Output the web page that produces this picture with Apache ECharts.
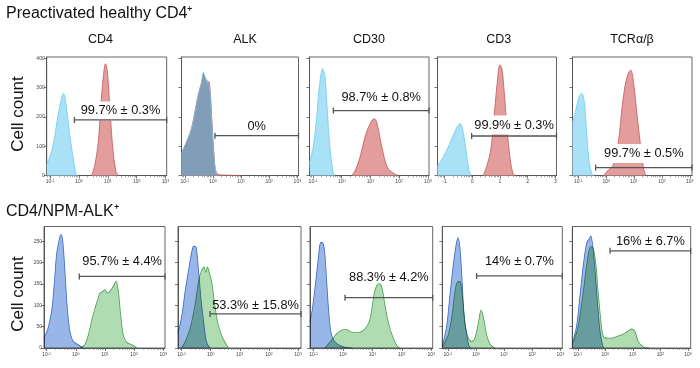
<!DOCTYPE html>
<html><head><meta charset="utf-8">
<script src="https://cdn.jsdelivr.net/npm/echarts@6/dist/echarts.min.js"></script>
<style>html,body{margin:0;padding:0;background:#fff}#c{width:700px;height:368px}</style>
</head><body><div id="c"></div>
<script>
// ---------- data ----------
const markers = ['CD4', 'ALK', 'CD30', 'CD3', 'TCRα/β'];
const rowTitles = ['Preactivated healthy CD4⁺', 'CD4/NPM-ALK⁺'];
const yTitle = 'Cell count';
const decadeTicks = [-1, 0, 1, 2, 3];
const decadeExponents = ['-1', '0', '1', '2', '3'];
const cd3HealthyTickLabels = ['-1', '0', '1', '2', '3'];
const row1CountTicks = [0, 100, 200, 300, 400];
const row2CountTicks = [0, 50, 100, 150, 200, 250];

// Preactivated healthy CD4+ : [log10 fluorescence, cell count]
const healthyCD4Iso = [[-1.12,37],[-0.95,83],[-0.83,141],[-0.72,210],[-0.60,267],[-0.54,280],[-0.45,245],[-0.34,152],[-0.22,72],[-0.10,3],[-0.05,0]];
const healthyCD4Stain = [[0.44,0],[0.55,37],[0.67,117],[0.75,232],[0.84,335],[0.92,382],[0.98,359],[1.07,232],[1.17,94],[1.28,14],[1.36,0]];
const healthyALKIso = [[-1.12,80],[-1.09,82],[-0.94,116],[-0.79,150],[-0.68,196],[-0.52,276],[-0.40,321],[-0.34,353],[-0.28,333],[-0.20,316],[-0.13,308],[-0.05,192],[0.04,56],[0.11,6],[0.15,0]];
const healthyALKStain = [[-1.12,78],[-0.94,114],[-0.79,152],[-0.68,198],[-0.52,278],[-0.40,318],[-0.34,345],[-0.28,335],[-0.20,322],[-0.13,318],[-0.05,205],[0.04,65],[0.11,12],[0.25,2],[0.6,1],[1.0,0]];
const healthyCD30Iso = [[-1.12,45],[-1.10,51],[-0.99,97],[-0.87,199],[-0.78,302],[-0.66,365],[-0.58,336],[-0.50,222],[-0.41,97],[-0.31,17],[-0.25,0]];
const healthyCD30Stain = [[0.35,0],[0.47,17],[0.64,63],[0.81,131],[0.99,177],[1.13,194],[1.22,182],[1.40,97],[1.59,28],[1.80,8],[1.97,0]];
const healthyCD3Iso = [[-1.25,30],[-1.22,36],[-1.04,64],[-0.86,98],[-0.68,138],[-0.54,167],[-0.44,178],[-0.34,155],[-0.22,87],[-0.14,30],[-0.05,0]];
const healthyCD3Stain = [[0.40,0],[0.52,30],[0.67,87],[0.79,201],[0.90,315],[1.00,378],[1.07,366],[1.15,292],[1.27,144],[1.39,42],[1.48,5],[1.55,0]];
const healthyTCRIso = [[-1.21,185],[-1.18,190],[-1.09,224],[-0.97,269],[-0.88,281],[-0.78,247],[-0.70,144],[-0.62,53],[-0.52,8],[-0.45,0]];
const healthyTCRStain = [[-0.10,0],[0.08,19],[0.25,36],[0.43,110],[0.56,224],[0.67,303],[0.79,349],[0.88,360],[0.97,326],[1.09,224],[1.21,121],[1.33,30],[1.42,0]];

// CD4/NPM-ALK+
const alkCD4Iso = [[-1.09,23],[-0.95,47],[-0.83,86],[-0.75,141],[-0.66,219],[-0.57,254],[-0.51,266],[-0.45,254],[-0.37,180],[-0.29,94],[-0.20,39],[-0.09,16],[0.08,8],[0.26,0]];
const alkCD4Stain = [[0.14,0],[0.31,8],[0.43,31],[0.54,63],[0.66,94],[0.77,117],[0.83,129],[0.92,133],[1.00,137],[1.08,129],[1.17,133],[1.29,145],[1.38,157],[1.46,133],[1.54,78],[1.63,31],[1.74,14],[1.97,6],[2.09,0]];
const alkALKIso = [[-1.12,34],[-1.11,37],[-0.99,76],[-0.88,131],[-0.77,178],[-0.65,225],[-0.58,239],[-0.50,237],[-0.42,186],[-0.33,115],[-0.24,61],[-0.14,14],[-0.02,0]];
const alkALKStain = [[-1.0,0],[-0.88,14],[-0.71,45],[-0.54,100],[-0.40,162],[-0.31,182],[-0.23,190],[-0.17,178],[-0.11,190],[-0.05,178],[0.04,154],[0.13,108],[0.24,61],[0.38,29],[0.52,10],[0.61,0]];
const alkCD30Iso = [[-1.12,61],[-1.04,92],[-0.93,154],[-0.84,209],[-0.75,248],[-0.67,245],[-0.61,217],[-0.55,154],[-0.47,76],[-0.38,29],[-0.21,10],[0.07,2],[0.3,0]];
const alkCD30Stain = [[-0.61,0],[-0.44,14],[-0.27,29],[-0.16,37],[0.01,43],[0.13,43],[0.30,37],[0.47,36],[0.64,39],[0.75,45],[0.89,61],[0.98,92],[1.07,131],[1.15,147],[1.23,151],[1.32,143],[1.43,100],[1.54,61],[1.68,29],[1.83,6],[1.94,0]];
const alkCD3Iso = [[-1.2,8],[-1.16,15],[-1.04,54],[-0.93,124],[-0.81,195],[-0.71,242],[-0.64,259],[-0.57,234],[-0.50,164],[-0.43,85],[-0.33,31],[-0.24,3],[-0.18,0]];
const alkCD3Stain = [[-1.2,4],[-1.16,7],[-0.99,31],[-0.87,70],[-0.75,132],[-0.67,154],[-0.57,156],[-0.49,124],[-0.39,54],[-0.27,23],[-0.15,15],[-0.04,23],[0.08,58],[0.18,89],[0.26,73],[0.38,31],[0.50,9],[0.68,0]];
const alkTCRIso = [[-1.2,15],[-1.15,23],[-1.04,54],[-0.92,124],[-0.80,195],[-0.68,246],[-0.58,257],[-0.53,263],[-0.46,242],[-0.38,187],[-0.29,109],[-0.19,38],[-0.10,7],[-0.05,0]];
const alkTCRStain = [[-1.2,10],[-1.15,15],[-0.98,54],[-0.80,132],[-0.66,203],[-0.53,238],[-0.44,234],[-0.34,195],[-0.26,132],[-0.17,70],[-0.07,27],[0.11,23],[0.29,24],[0.41,27],[0.59,31],[0.78,38],[0.96,45],[1.08,38],[1.20,15],[1.38,3],[1.58,0]];

// gates
const healthyGateStart = [-0.16, 0.07, -0.29, -0.02, -0.38];
const healthyGateLevel = [190, 136, 222, 135, 27];
const healthyGateText = ['99.7% ± 0.3%', '0%', '98.7% ± 0.8%', '99.9% ± 0.3%', '99.7% ± 0.5%'];
const alkGateStart = [0.12, -0.02, 0.07, 0.02, 0.17];
const alkGateLevel = [168, 80, 118, 169, 228];
const alkGateText = ['95.7% ± 4.4%', '53.3% ± 15.8%', '88.3% ± 4.2%', '14% ± 0.7%', '16% ± 6.7%'];

// ---------- layout / style ----------
const FONT = '"Liberation Sans", Arial, Helvetica, sans-serif';
const panelsX = [
  [[46.7,166.7,-1.12,3.04],[181.5,298.5,-1.12,3.04],[309.5,429,-1.12,3.04],[437.5,556.5,-1.25,3.04],[572.5,692,-1.21,3.08]],
  [[44,165,-1.09,3.06],[178,301,-1.12,3.1],[310,432.7,-1.12,3.05],[442.3,562.3,-1.2,3.07],[572.3,690.7,-1.2,3.1]]
];
const rowsY = [[57,118.5,405],[226.5,121.5,285]];
const labelGap = [[9,9,13,11,14],[15,8,20,14,9]];
const colTitleX = [100.5, 245, 369, 498.7, 632];

const rows = [
  { iso:[healthyCD4Iso,healthyALKIso,healthyCD30Iso,healthyCD3Iso,healthyTCRIso],
    stain:[healthyCD4Stain,healthyALKStain,healthyCD30Stain,healthyCD3Stain,healthyTCRStain],
    gs:healthyGateStart, gl:healthyGateLevel, gt:healthyGateText, yt:row1CountTicks,
    isoLine:'#6dcbef', isoFill:'#a9e1f6', stainLine:'#c4585b', stainFill:'#e39d9d', blend:null, labelBg:'#fff' },
  { iso:[alkCD4Iso,alkALKIso,alkCD30Iso,alkCD3Iso,alkTCRIso],
    stain:[alkCD4Stain,alkALKStain,alkCD30Stain,alkCD3Stain,alkTCRStain],
    gs:alkGateStart, gl:alkGateLevel, gt:alkGateText, yt:row2CountTicks,
    isoLine:'#4a7bc9', isoFill:'#98b6e8', stainLine:'#5ba866', stainFill:'#afdcb0', blend:'multiply', labelBg:'transparent' }
];

function minorTicks(x0, x1) {
  const out = [];
  for (let n = -2; n <= 3; n++) for (let k = 2; k <= 9; k++) {
    const v = n + Math.log10(k);
    if (v > x0 && v < x1) out.push(v);
  }
  return out;
}

const grids = [], xAxes = [], yAxes = [], series = [];
rows.forEach((row, r) => {
  const [top, height, ymax] = rowsY[r];
  for (let p = 0; p < 5; p++) {
    const g = r * 5 + p;
    const [l, rr, x0, x1] = panelsX[r][p];
    grids.push({ left:l, top:top, width:rr - l, height:height, show:true, borderColor:'#666', borderWidth:1 });
    const plainLabels = (r === 0 && p === 3);
    xAxes.push({
      gridIndex:g, type:'value', min:x0, max:x1, position:'bottom',
      axisLine:{ show:true, onZero:false, lineStyle:{ color:'#555', width:1 } },
      axisTick:{ show:true, customValues:decadeTicks, length:3, lineStyle:{ color:'#555', width:0.8 } },
      axisLabel:{ show:true, customValues:decadeTicks, margin:4, color:'#444', fontSize:5, fontFamily:FONT,
        formatter:(v) => {
          const i = decadeTicks.indexOf(Math.round(v));
          return plainLabels ? cd3HealthyTickLabels[i] : '{b|10}{e|' + decadeExponents[i] + '}';
        },
        rich:{ b:{ fontSize:5, color:'#444', fontFamily:FONT }, e:{ fontSize:3.5, color:'#444', fontFamily:FONT, verticalAlign:'top' } } },
      splitLine:{ show:false }
    });
    xAxes.push({
      gridIndex:g, type:'value', min:x0, max:x1, position:'bottom',
      axisLine:{ show:false }, axisLabel:{ show:false }, splitLine:{ show:false },
      axisTick:{ show:true, customValues:minorTicks(x0, x1), length:1.8, lineStyle:{ color:'#666', width:0.6 } }
    });
    yAxes.push({
      gridIndex:g, type:'value', min:0, max:ymax,
      axisLine:{ show:true, onZero:false, lineStyle:{ color:'#555', width:1 } },
      axisTick:{ show:true, customValues:row.yt, length:3, lineStyle:{ color:'#555', width:0.8 } },
      axisLabel:{ show:p === 0, customValues:row.yt, margin:2, color:'#444', fontSize:5, fontFamily:FONT },
      splitLine:{ show:false }
    });
    const xi = 2 * g;
    const isoFill = (r === 0 && p === 1) ? '#819db8' : row.isoFill;
    series.push({
      type:'line', xAxisIndex:xi, yAxisIndex:g, data:row.stain[p], smooth:0.35, symbol:'none', silent:true,
      lineStyle:{ color:row.stainLine, width:0.8 }, areaStyle:{ color:row.stainFill, opacity:1 },
      blendMode:row.blend || undefined, z:2
    });
    series.push({
      type:'line', xAxisIndex:xi, yAxisIndex:g, data:row.iso[p], smooth:0.35, symbol:'none', silent:true,
      lineStyle:{ color:row.isoLine, width:0.8 }, areaStyle:{ color:isoFill, opacity:1 },
      blendMode:row.blend || undefined, z:2
    });
    series.push({
      type:'scatter', xAxisIndex:xi, yAxisIndex:g, data:[[(row.gs[p] + x1) / 2, row.gl[p]]], silent:true,
      symbolSize:1, itemStyle:{ color:'rgba(0,0,0,0)', opacity:1 }, z:4,
      label:{ show:true, position:'inside', offset:[0, -labelGap[r][p]], formatter:row.gt[p],
        fontSize:12.8, color:'#111', fontFamily:FONT, backgroundColor:row.labelBg, padding:[3, 2] }
    });
    series.push({
      type:'line', xAxisIndex:xi, yAxisIndex:g, data:[[row.gs[p], row.gl[p]], [x1, row.gl[p]]], silent:true,
      symbol:'rect', symbolSize:[1.3, 6], showSymbol:true, clip:false,
      lineStyle:{ color:'#555', width:1.3 }, itemStyle:{ color:'#555' }, z:5
    });
  }
});

const graphic = [
  { type:'text', x:6, y:13.5, style:{ text:rowTitles[0], fontSize:16, fontFamily:FONT, fill:'#111', align:'left', verticalAlign:'middle' } },
  { type:'text', x:6, y:211.5, style:{ text:rowTitles[1], fontSize:16, fontFamily:FONT, fill:'#111', align:'left', verticalAlign:'middle' } },
  { type:'text', x:18, y:114, rotation:Math.PI / 2, style:{ text:yTitle, fontSize:17, fontFamily:FONT, fill:'#111', align:'center', verticalAlign:'middle' } },
  { type:'text', x:18, y:294, rotation:Math.PI / 2, style:{ text:yTitle, fontSize:17, fontFamily:FONT, fill:'#111', align:'center', verticalAlign:'middle' } }
];
markers.forEach((m, i) => {
  graphic.push({ type:'text', x:colTitleX[i], y:40, style:{ text:m, fontSize:12.5, fontFamily:FONT, fill:'#111', align:'center', verticalAlign:'middle' } });
});

const chart = echarts.init(document.getElementById('c'), null, { renderer:'canvas', width:700, height:368 });
chart.setOption({
  backgroundColor:'#fff', animation:false,
  grid:grids, xAxis:xAxes, yAxis:yAxes, series:series, graphic:graphic
});
</script>
</body></html>
